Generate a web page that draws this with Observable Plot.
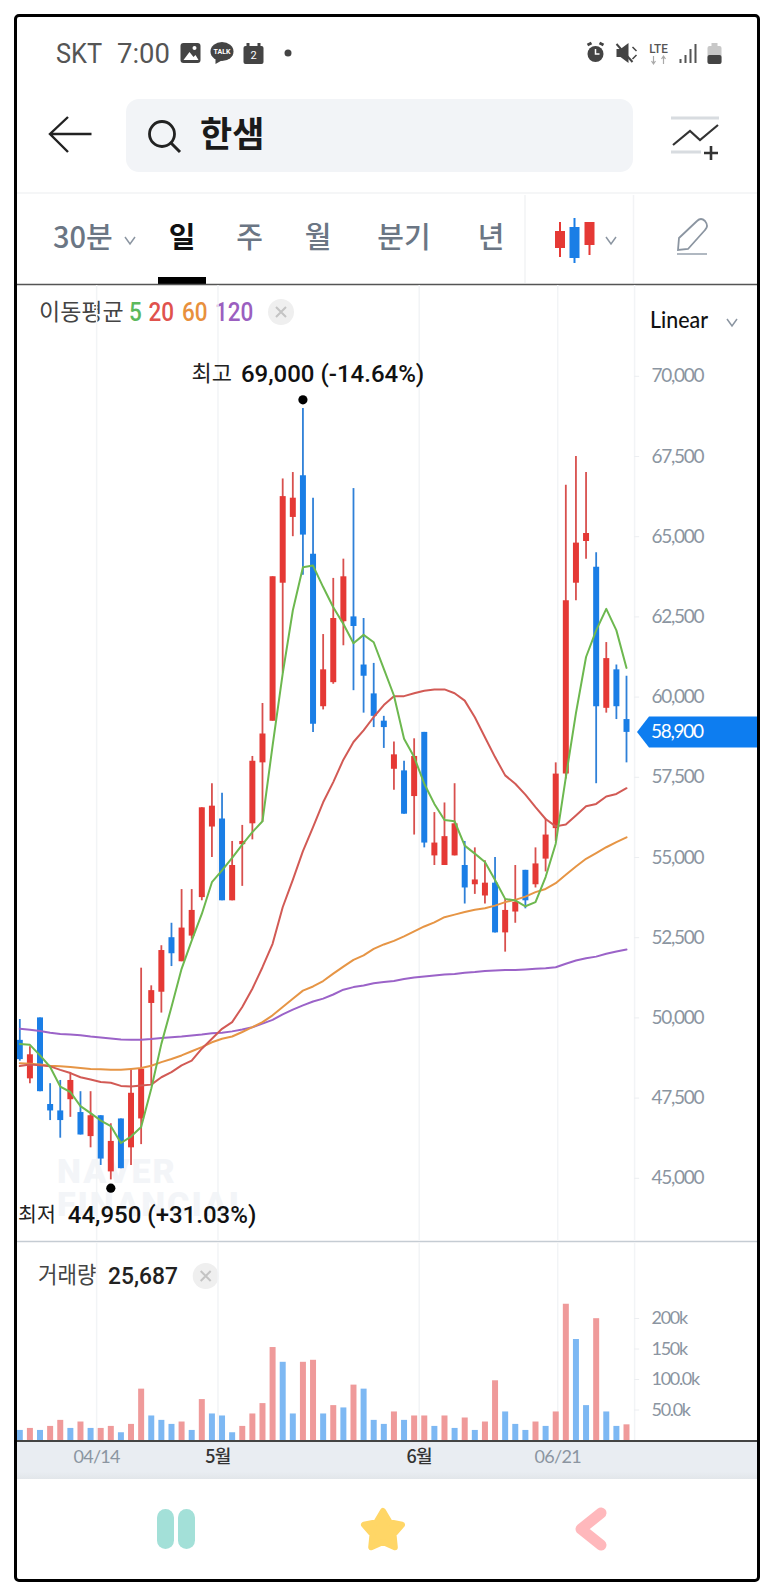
<!DOCTYPE html>
<html lang="ko"><head><meta charset="utf-8">
<script src="https://cdn.jsdelivr.net/npm/d3@7"></script>
<script src="https://cdn.jsdelivr.net/npm/@observablehq/plot@0.6"></script>
<style>
html,body{margin:0;padding:0;background:#fff;width:773px;height:1595px;overflow:hidden}
#page{position:relative;width:773px;height:1595px;font-family:"Noto Sans CJK KR","Noto Sans",sans-serif}
#chrome,#price,#volume,#frame{position:absolute}
#chrome{left:0;top:0}
#price{left:0;top:285px}
#volume{left:0;top:1243px}
#frame{left:13.5px;top:13.5px;width:740.5px;height:1562.5px;border:3px solid #000;border-radius:5px;pointer-events:none}
#strip{position:absolute;left:16px;top:1440px;width:741px;height:39px;background:linear-gradient(#e9edf2 80%,#e2e6ea);border-top:2px solid #444;box-sizing:border-box}
svg text{white-space:pre}
[aria-label="y-axis tick label"]{letter-spacing:-1.3px}
[aria-label="x-axis tick label"]{letter-spacing:-.7px}
</style></head><body>
<div id="page"><div id="strip"></div><div id="chrome"></div><div id="price"></div><div id="volume"></div><div id="frame"></div></div>
<script>
const open  = [49300,48100,50000,47300,47100,47450,47050,46300,46950,45200,46850,45950,46850,50450,50800,52500,51750,52550,53750,55950,56200,53650,55400,56050,57950,59250,63550,65600,66900,64450,59700,60450,62350,62500,61000,60100,59250,57750,57700,56900,58900,55050,54750,55050,54750,54150,53800,54200,52650,53300,54600,54150,54950,55900,57600,63550,64850,64050,59650,60850,59300];
const close = [48700,48850,47700,47100,46800,48050,46350,46950,45600,46150,45300,47650,48400,50850,52100,52000,52800,53350,56550,56600,53650,54750,55500,58000,58850,63750,66250,66200,65050,59150,60850,62450,63750,62200,60650,59400,59050,58200,56350,58150,55450,55450,55650,56050,54050,54300,54200,52650,53350,53600,53650,54800,55700,57600,63000,64800,65100,59700,61200,59700,58900];
const high  = [49950,49100,50000,47950,48050,48300,47700,47700,46950,46700,46850,48400,51550,51000,52250,52950,54000,54000,56550,57300,57000,55500,56000,58150,59800,63750,66800,67000,69000,66200,61950,63700,64300,66500,62450,61050,59400,58600,58000,58700,58900,56400,56700,57300,55500,55300,54900,55000,53700,54750,54600,55300,56200,57950,66600,67500,67000,64500,61700,61000,60650];
const low   = [48650,47950,47700,46800,46250,46900,46350,45950,45400,44950,45300,45400,46050,47900,50150,51600,51750,52450,53650,55000,53650,53650,54100,55550,56100,59250,60750,65000,63800,58900,59600,60400,61600,60200,59500,59050,58400,57100,56350,55700,55300,54750,54750,55050,53550,53850,53550,52650,52050,52950,53400,54050,54550,55500,57450,63000,64300,57300,59500,59300,57950];
const ma5   = [49190,49160,48830,48470,47860,47690,47250,47030,46800,46630,46100,46300,46600,47790,49190,50340,51530,52410,53240,54230,54600,54990,55400,55790,56130,58490,60730,62700,64050,64100,63430,62800,62280,61680,61940,61710,60880,60050,58700,58130,57300,56670,56170,56130,55370,55120,54860,54300,53710,53660,53480,53610,54390,55430,57500,59500,61250,62080,62750,62080,60910];
const ma20  = [48500,48550,48520,48490,48380,48280,48150,48080,48000,47980,47880,47860,47890,47920,48150,48310,48520,48670,49040,49350,49660,49870,50340,50910,51580,52310,53450,54300,55200,55950,56720,57350,58050,58600,58960,59380,59750,60030,60030,60120,60200,60240,60240,60120,59890,59370,58750,58130,57560,57300,56960,56570,56200,55970,56030,56310,56600,56670,56900,56980,57160];
const ma60  = [48590,48570,48550,48510,48490,48470,48440,48410,48400,48380,48380,48410,48440,48510,48620,48720,48830,48960,49090,49240,49350,49420,49560,49710,49870,50080,50340,50600,50850,50980,51150,51380,51600,51810,51950,52150,52290,52400,52540,52700,52850,52980,53140,53220,53300,53370,53420,53500,53610,53680,53780,53920,54020,54200,54460,54720,54960,55140,55320,55480,55630];
const ma120 = [49660,49630,49590,49540,49500,49480,49460,49420,49390,49360,49330,49320,49320,49340,49370,49400,49420,49450,49480,49520,49540,49580,49640,49710,49820,49940,50110,50260,50390,50510,50600,50730,50880,50960,51010,51080,51120,51150,51210,51260,51290,51320,51350,51370,51410,51430,51460,51480,51490,51490,51510,51530,51550,51580,51690,51790,51860,51910,52000,52070,52130];
const volume = [16500,19800,16500,23100,33000,19800,30300,19800,19800,23100,12700,26400,84200,40200,33000,26400,30300,16500,67100,43500,40200,12700,23100,43500,60500,152400,128200,43500,128200,131500,43500,57200,53400,90800,84200,33000,26400,46800,33000,40200,40200,23100,40200,19800,36900,16500,30300,97900,46800,26400,16500,30300,23100,46800,223300,165600,57200,199700,46800,23100,25687];
const volumeUp = [0,1,0,1,1,0,1,0,1,1,0,1,1,0,0,0,1,0,1,0,0,0,1,1,1,1,0,0,1,1,0,1,0,1,0,0,0,1,0,1,1,0,1,0,1,0,1,1,0,0,0,1,0,1,1,0,0,1,0,0,1];
const priceTicks = [45000,47500,50000,52500,55000,57500,60000,62500,65000,67500,70000];
const volumeTicks = [50000,100000,150000,200000];
const volumeTickLabels = ["50.0k","100.0k","150k","200k"];
const minorDates = [[7.6,"04/14"],[53.2,"06/21"]];
const majorDates = [[19.6,"5월"],[39.5,"6월"]];
const highIndex = 28, lowIndex = 9;

const sessions = d3.range(open.length);
const candles = sessions.map(i => ({i, open:open[i], close:close[i], high:high[i], low:low[i]}));
const RED="#e53935", BLUE="#1a7ee6", WRED="#d8504e", WBLUE="#2f80d8";
const GRID="#f2f4f6", TICKC="#8b95a1", NUMF="Lato, Roboto, sans-serif", KR='"Noto Sans CJK KR", sans-serif';
const edgeSlot = 60.8;
const gridSlots = [...minorDates, ...majorDates].map(d => d[0]);
const xScale = {type:"linear", domain:[0,60], range:[19.3,626]};
const up = d => d.close >= d.open;
const maLine = (values, stroke) => Plot.line(sessions, {x:i=>i, y:i=>values[i], stroke, strokeWidth:2, curve:"linear", strokeLinejoin:"round"});
const lastClose = close[close.length-1];
const comma = d3.format(",");
const pct = p => d3.format("+.2f")((lastClose/p-1)*100).replace("−","-");

const price = Plot.plot({
  width:773, height:956, margin:0, marginRight:139, style:{background:"transparent", overflow:"visible"},
  x:{...xScale, axis:null},
  y:{type:"linear", domain:[45000,70000], range:[892.8,90.8], axis:null},
  marks:[
    Plot.ruleX(gridSlots,{stroke:GRID, strokeWidth:1.5}),
    Plot.ruleX([edgeSlot],{stroke:GRID, strokeWidth:1.5}),
    Plot.ruleY(priceTicks,{x1:edgeSlot, x2:edgeSlot+.5, stroke:"#eceef1"}),
    Plot.axisY({anchor:"right", ticks:priceTicks, tickSize:0, tickPadding:17, tickFormat:comma, fontSize:19, fontFamily:NUMF, color:TICKC, fill:TICKC, label:null}),
    Plot.ruleX(candles,{x:"i", y1:"low", y2:"high", stroke:d=>up(d)?WRED:WBLUE, strokeWidth:1.8}),
    Plot.ruleX(candles,{x:"i", y1:"open", y2:"close", stroke:d=>up(d)?RED:BLUE, strokeWidth:6}),
    maLine(ma120,"#9b63c8"),
    maLine(ma60,"#e69545"),
    maLine(ma20,"#d25a55"),
    maLine(ma5,"#6db84f"),
    Plot.dot([highIndex],{x:i=>i, y:i=>high[i], dy:-8.6, r:4.6, fill:"#000"}),
    Plot.dot([lowIndex],{x:i=>i, y:i=>low[i], dy:8.3, r:4.6, fill:"#000"}),
    Plot.text([highIndex],{x:i=>i, y:i=>high[i], dx:-71, dy:-34, text:()=>"최고", textAnchor:"end", fontSize:22, fontFamily:KR, fill:"#222"}),
    Plot.text([highIndex],{x:i=>i, y:i=>high[i], dx:-62, dy:-34, text:i=>`${comma(high[i])} (${pct(high[i])}%)`, textAnchor:"start", fontSize:24, fontWeight:500, fontFamily:"Roboto, sans-serif", fill:"#111"}),
    Plot.text([lowIndex],{x:i=>i, y:i=>low[i], dx:-55, dy:35.6, text:()=>"최저", textAnchor:"end", fontSize:20.5, fontFamily:KR, fill:"#222"}),
    Plot.text([lowIndex],{x:i=>i, y:i=>low[i], dx:-43, dy:35.6, text:i=>`${comma(low[i])} (${pct(low[i])}%)`, textAnchor:"start", fontSize:24, fontWeight:500, fontFamily:"Roboto, sans-serif", fill:"#111"}),
    (index,{y}) => {
      const cy = y(lastClose);
      const g = d3.create("svg:g");
      g.append("path").attr("fill","#0d7df0").attr("d",`M637 ${cy}L649 ${cy-15.5}H757V${cy+15.5}H649Z`);
      g.append("text").attr("x",651).attr("y",cy).attr("dy","0.34em").attr("fill","#fff").attr("text-anchor","start")
        .attr("font-family",NUMF).attr("font-size",19).attr("letter-spacing","-1.3px").text(comma(lastClose));
      return g.node();
    }
  ]
});
document.getElementById("price").append(price);

const volumeRows = sessions.map(i => ({i, v:volume[i], up:volumeUp[i]}));
const vol = Plot.plot({
  width:773, height:236, margin:0, marginRight:139, marginBottom:39, style:{background:"transparent", overflow:"visible"},
  x:{...xScale, axis:null},
  y:{type:"linear", domain:[0,200000], range:[197,75], axis:null},
  marks:[
    Plot.ruleX(gridSlots,{stroke:GRID, strokeWidth:1.5}),
    Plot.ruleX([edgeSlot],{stroke:GRID, strokeWidth:1.5}),
    Plot.ruleY(volumeTicks,{x1:edgeSlot, x2:edgeSlot+.5, stroke:"#eceef1"}),
    Plot.axisY({anchor:"right", ticks:volumeTicks, tickSize:0, tickPadding:17, tickFormat:d=>volumeTickLabels[volumeTicks.indexOf(d)], fontSize:18, fontFamily:NUMF, color:TICKC, fill:TICKC, label:null}),
    Plot.ruleX(volumeRows,{x:"i", y1:0, y2:"v", stroke:d=>d.up?"#ef9a9a":"#7db8f3", strokeWidth:6}),
    Plot.axisX({anchor:"bottom", ticks:minorDates.map(d=>d[0]), tickSize:0, tickPadding:10, tickFormat:d=>minorDates.find(m=>m[0]===d)[1], fontSize:18, fontFamily:NUMF, color:TICKC, fill:TICKC, label:null}),
    Plot.axisX({anchor:"bottom", ticks:majorDates.map(d=>d[0]), tickSize:0, tickPadding:10, tickFormat:d=>majorDates.find(m=>m[0]===d)[1], fontSize:18, fontWeight:500, fontFamily:KR, color:"#333", fill:"#333", label:null})
  ]
});
document.getElementById("volume").append(vol);

// App chrome
const t=(x,y,s,o={})=>{const sx=o.sx||1;return `<text transform="translate(${x} ${y}) scale(${sx} 1)" dy=".36em" text-anchor="${o.a||"start"}" font-size="${o.s||20}" font-weight="${o.w||400}" font-family='${o.f||KR}' fill="${o.c||"#222"}" ${o.ls?`letter-spacing="${o.ls}"`:""}>${s}</text>`;};
const chev=(x,y,c="#8b95a1")=>`<path d="M${x-5} ${y-3}L${x} ${y+4}L${x+5} ${y-3}" fill="none" stroke="${c}" stroke-width="1.5"/>`;
const closeBtn=(x,y)=>`<circle cx="${x}" cy="${y}" r="13" fill="#efefef"/><path d="M${x-5} ${y-5}L${x+5} ${y+5}M${x+5} ${y-5}L${x-5} ${y+5}" stroke="#c4c4c4" stroke-width="2"/>`;
const star=(()=>{let p=[];for(let k=0;k<10;k++){const r=k%2?11:20,a=-Math.PI/2+k*Math.PI/5;p.push((383+r*Math.cos(a)).toFixed(1)+","+(1531+r*Math.sin(a)).toFixed(1));}return p.join(" ");})();
document.getElementById("chrome").innerHTML=`<svg width="773" height="1595" style="display:block">
${t(56,53,"SKT",{s:27,f:"Roboto",c:"#555",sx:.94})}
${t(117,53,"7:00",{s:28,f:"Roboto",c:"#555",sx:.98})}
<g transform="translate(-1.5 0)">
<rect x="182" y="43" width="20" height="20" rx="3" fill="#444"/><path d="M185 60L191 52L195 57L197 55L200 60Z" fill="#fff"/><circle cx="196" cy="48" r="2" fill="#fff"/>
<ellipse cx="223.5" cy="51.5" rx="11.5" ry="9.5" fill="#444"/><path d="M217 58L217 64L224 60Z" fill="#444"/>
${t(223.5,51.5,"TALK",{s:7,a:"middle",c:"#fff",f:"Roboto",w:700})}
<rect x="245" y="46" width="20" height="18" rx="2" fill="#444"/><rect x="248" y="43" width="3" height="5" fill="#444"/><rect x="259" y="43" width="3" height="5" fill="#444"/>
${t(255,55,"2",{s:11,a:"middle",c:"#fff",f:"Roboto"})}
<circle cx="289.5" cy="53" r="3.5" fill="#444"/>
</g>
<g transform="translate(-3.5 0)">
<circle cx="599" cy="54" r="8" fill="#444"/><path d="M591 45L595 43M607 45L603 43" stroke="#444" stroke-width="3"/><path d="M599 49V54H603" stroke="#fff" stroke-width="1.5" fill="none"/>
<path d="M620 49H624L632 43V63L624 57H620Z" fill="#444"/><path d="M620 44L636 62" stroke="#444" stroke-width="2"/><path d="M636 47L640 51M640 55L636 59" stroke="#444" stroke-width="1.5"/>
${t(662,48,"LTE",{s:13,a:"middle",f:"Roboto",c:"#555",w:500,sx:.9})}
<path d="M657 56V64M655 61L657 64L659 61M667 64V56M665 59L667 56L669 59" stroke="#aaa" stroke-width="1.2" fill="none"/>
<path d="M684 63V59M689 63V55M694 63V49M699 63V44" stroke="#555" stroke-width="2"/>
<rect x="711" y="46" width="14" height="18" rx="2" fill="#c8c8c8"/><rect x="715" y="43" width="6" height="3" fill="#c8c8c8"/><rect x="711" y="55" width="14" height="9" rx="2" fill="#444"/>
</g>
<path d="M91.5 134H50M68 117L50 134L68 152" fill="none" stroke="#222" stroke-width="2.4"/>
<rect x="126" y="99" width="507" height="73" rx="13" fill="#f2f4f7"/>
<circle cx="162" cy="134" r="12.5" fill="none" stroke="#222" stroke-width="2.8"/><path d="M171 143L180 152" stroke="#222" stroke-width="3"/>
${t(200,134,"한샘",{s:35,w:700,c:"#1a1a1a"})}
<g transform="translate(-4 0)"><path d="M675 118H723M675 152H705" stroke="#d8dce0" stroke-width="3"/><path d="M677 145L694 131L704 140L722 125" fill="none" stroke="#333" stroke-width="2.2"/><path d="M708 153H722M715 146V160" stroke="#333" stroke-width="2.6"/></g>
<path d="M16 193H757" stroke="#f2f3f5" stroke-width="1.5"/>
${t(53,238,"30분",{s:29,c:"#6b7684",w:500})}${chev(130,240)}
${t(182,238,"일",{s:29,a:"middle",w:700,c:"#111"})}
${t(249.5,238,"주",{s:29,a:"middle",c:"#6b7684",w:500})}
${t(318,238,"월",{s:29,a:"middle",c:"#6b7684",w:500})}
${t(404,238,"분기",{s:29,a:"middle",c:"#6b7684",w:500})}
${t(491,238,"년",{s:29,a:"middle",c:"#6b7684",w:500})}
<path d="M525 195V283M633.5 195V283" stroke="#f2f3f5" stroke-width="1.5"/>
<g transform="translate(-3 0)">
<path d="M563 222V257M592.5 222V255" stroke="#e53935" stroke-width="2"/><path d="M577.5 218V263" stroke="#1a7ee6" stroke-width="2"/>
<rect x="558" y="231" width="10" height="17" fill="#e53935"/><rect x="572.5" y="227" width="10" height="31" fill="#1a7ee6"/><rect x="587.5" y="222" width="10" height="23" fill="#e53935"/>
${chev(614,240)}
<path d="M681 250L682 238L700 221Q704 217 708 221Q712 226 708 230L691 249Z" fill="none" stroke="#8b95a1" stroke-width="1.8"/><path d="M680 254H710" stroke="#b0b8c1" stroke-width="2"/>
</g>
<rect x="158" y="277" width="48" height="7" fill="#000"/>
<path d="M16 284.5H757" stroke="#555" stroke-width="1.5"/>
${t(39,312,"이동평균",{s:23,c:"#444"})}
${t(129,312,"5",{s:25,f:"Roboto",c:"#5cb85c",w:500,sx:.9})}
${t(148.5,312,"20",{s:25,f:"Roboto",c:"#e0524d",w:500,sx:.9})}
${t(182,312,"60",{s:25,f:"Roboto",c:"#e8903c",w:500,sx:.9})}
${t(215,312,"120",{s:25,f:"Roboto",c:"#9b5fc0",w:500,sx:.9})}
${closeBtn(281,312)}
${t(650,320,"Linear",{s:23,f:"Lato",c:"#111",w:500,sx:.93})}${chev(732,322)}
${t(57,1171,"NAVER",{s:34,f:"Roboto",c:"#f3f5f8",w:900,ls:"2px"})}${t(57,1204,"FINANCIAL",{s:34,f:"Roboto",c:"#f3f5f8",w:900,ls:"2px"})}
<path d="M16 1241.5H757" stroke="#c5ccd3" stroke-width="1.6"/>
${t(38,1275,"거래량",{s:23,c:"#444",sx:.92})}
${t(108,1275,"25,687",{s:24,f:"Roboto",c:"#222",w:500,sx:.95})}
${closeBtn(205.7,1276)}
<rect x="157" y="1509" width="17" height="40" rx="8.5" fill="#a3e0d8"/><rect x="178" y="1509" width="17" height="40" rx="8.5" fill="#a3e0d8"/>
<polygon points="${star}" fill="#ffd666" stroke="#ffd666" stroke-width="6" stroke-linejoin="round"/>
<path d="M601 1513L581 1529L601 1545" fill="none" stroke="#ffb8bc" stroke-width="11" stroke-linecap="round" stroke-linejoin="round"/>
</svg>`;
</script></body></html>
